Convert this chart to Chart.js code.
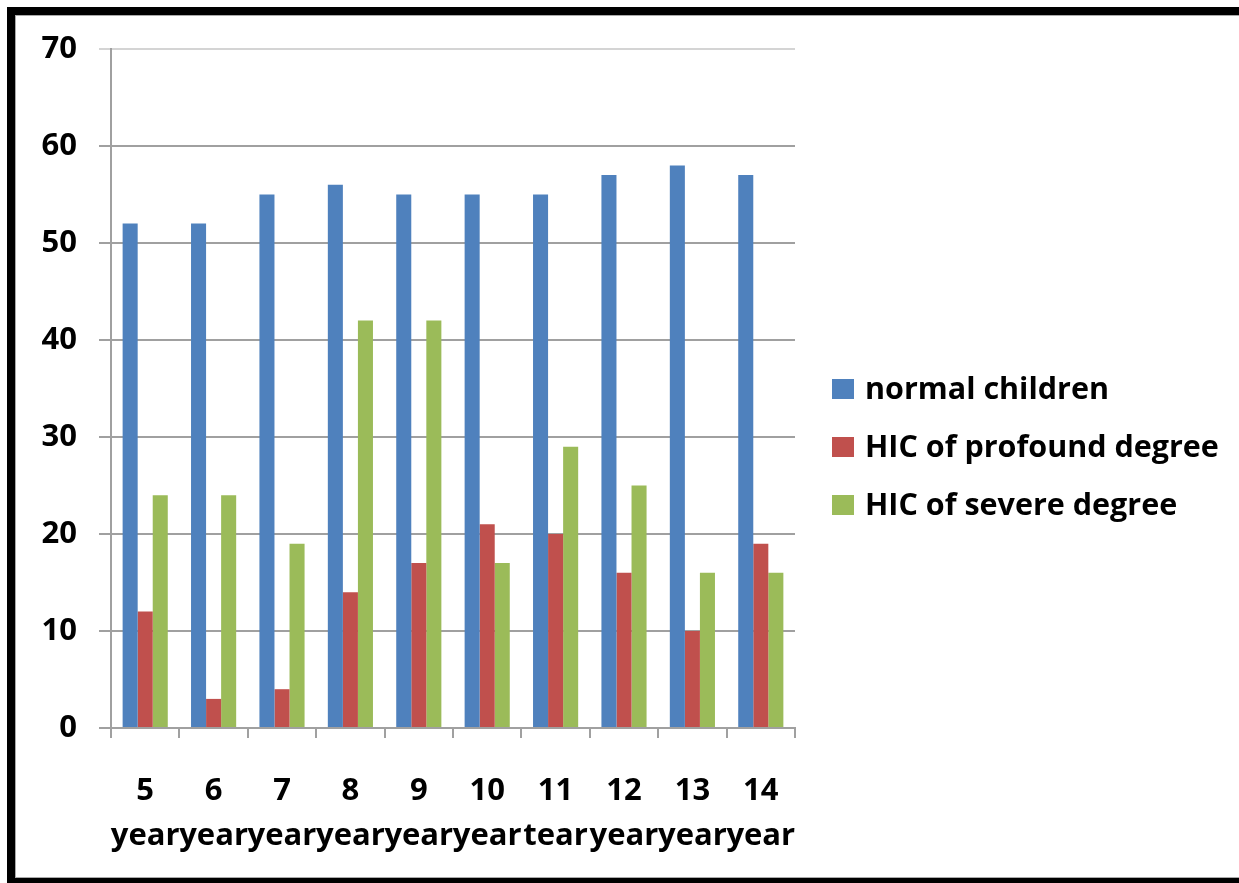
<!DOCTYPE html>
<html>
<head>
<meta charset="utf-8">
<script src="https://cdn.jsdelivr.net/npm/chart.js@4/dist/chart.umd.min.js"></script>
<style>
  html, body { margin: 0; padding: 0; background: #fff; overflow: hidden; }
  #wrap { position: relative; width: 1239px; height: 883px; }
  #frame {
    position: absolute; left: 7px; top: 7px; width: 1300px; height: 863px;
    border-left: 8px solid #000; border-top: 8px solid #000; border-bottom: 8px solid #000;
    box-shadow: inset 1px 1px 0 #aaa, inset 0 -1px 0 #aaa;
    box-sizing: content-box;
  }
  #c { position: absolute; left: 0; top: 0; }
</style>
</head>
<body>
<div id="wrap">
  <div id="frame"></div>
  <canvas id="c" width="1239" height="883"></canvas>
</div>
<script>
// Ages and the unit line printed under each age
const ages = ['5', '6', '7', '8', '9', '10', '11', '12', '13', '14'];
const unitLine = ['year', 'year', 'year', 'year', 'year', 'year', 'tear', 'year', 'year', 'year'];

// Scores per age group
const normalChildren = [52, 52, 55, 56, 55, 55, 55, 57, 58, 57];
const hicProfound = [12, 3, 4, 14, 17, 21, 20, 16, 10, 19];
const hicSevere = [24, 24, 19, 42, 42, 17, 29, 25, 16, 16];

const seriesNames = ['normal children', 'HIC of profound degree', 'HIC of severe degree'];
const seriesColors = ['#4F81BD', '#C0504D', '#9BBB59'];

const yTicks = [0, 10, 20, 30, 40, 50, 60, 70];

const FONT = '"Open Sans", "DejaVu Sans", sans-serif';

// Legend drawn at the right side, one row per dataset
const sideLegend = {
  id: 'sideLegend',
  afterDraw(chart) {
    const ctx = chart.ctx;
    ctx.save();
    ctx.font = 'bold 30.5px ' + FONT;
    ctx.textBaseline = 'middle';
    ctx.textAlign = 'left';
    chart.data.datasets.forEach((ds, i) => {
      const cy = 389 + i * 58;
      ctx.fillStyle = ds.backgroundColor;
      ctx.fillRect(832, cy - 10, 22, 20);
      ctx.fillStyle = '#000';
      ctx.fillText(ds.label, 865, cy + 1);
    });
    ctx.restore();
  }
};

const datasets = [normalChildren, hicProfound, hicSevere].map((vals, i) => ({
  label: seriesNames[i],
  data: vals,
  backgroundColor: seriesColors[i],
  borderWidth: 0,
  categoryPercentage: 0.66,
  barPercentage: 1.0
}));

new Chart(document.getElementById('c'), {
  type: 'bar',
  data: {
    labels: ages.map((a, i) => [a, unitLine[i]]),
    datasets: datasets
  },
  options: {
    responsive: false,
    animation: false,
    devicePixelRatio: 1,
    layout: { padding: { left: 0, top: 49, right: 444, bottom: 0 } },
    plugins: {
      legend: { display: false },
      tooltip: { enabled: false }
    },
    scales: {
      x: {
        afterFit(scale) { scale.height = 155; },
        border: { display: true, color: '#a0a0a0', width: 2 },
        grid: {
          offset: true,
          drawOnChartArea: false,
          drawTicks: true,
          tickLength: 10,
          color: '#a0a0a0',
          lineWidth: 2
        },
        ticks: {
          autoSkip: false,
          maxRotation: 0,
          minRotation: 0,
          padding: 31,
          color: '#000',
          font: { family: FONT, size: 31, weight: 'bold', lineHeight: 1.44 }
        }
      },
      y: {
        min: 0,
        max: 70,
        afterFit(scale) { scale.width = 111; },
        afterBuildTicks(scale) { scale.ticks = yTicks.map(v => ({ value: v })); },
        border: { display: true, color: '#a0a0a0', width: 2 },
        grid: {
          drawTicks: true,
          tickLength: 12,
          color: (c) => (c.tick && c.tick.value === 70 ? '#d4d4d4' : '#a0a0a0'),
          lineWidth: 2
        },
        ticks: {
          padding: 22,
          color: '#000',
          font: { family: FONT, size: 31, weight: 'bold' }
        }
      }
    }
  },
  plugins: [sideLegend]
});
</script>
</body>
</html>
